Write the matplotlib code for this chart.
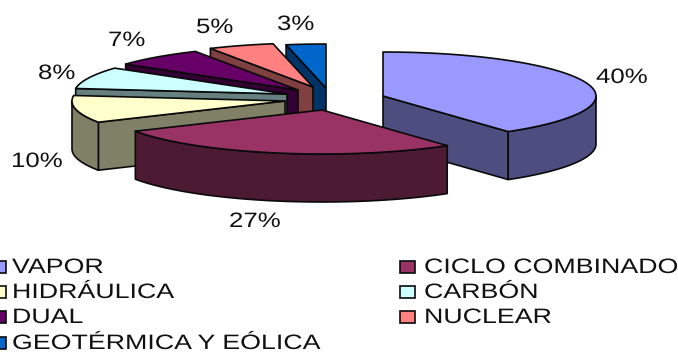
"""Exploded 3D-style pie of generating capacity by plant type."""

import numpy as np
import matplotlib
matplotlib.use("Agg")
import matplotlib.pyplot as plt
from matplotlib.patches import Polygon, Rectangle
from matplotlib.patheffects import AbstractPathEffect
from matplotlib.transforms import Affine2D

names = ["VAPOR", "CICLO COMBINADO", "HIDRÁULICA", "CARBÓN", "DUAL", "NUCLEAR",
         "GEOTÉRMICA Y EÓLICA"]
shares = [40, 27, 10, 8, 7, 5, 3]
tops = ["#9999FF", "#993366", "#FFFFCC", "#CCFFFF", "#660066", "#FF8080", "#0066CC"]
walls = ["#4D4D80", "#4D1A33", "#808066", "#668080", "#330033", "#804040", "#003366"]

# Exploded slice centres in pixels, same order as shares
centres = [(383, 96), (322, 110), (285, 101), (287, 94), (298, 90), (313, 87), (326, 88)]
label_pos = [(596, 83), (229, 227), (11, 167), (38, 79), (108, 46), (196, 33), (277, 30)]
RX, RY, DEPTH = 213, 44, 48
EDGE = "#0A0A0A"


class WideText(AbstractPathEffect):
    """Stretch glyphs horizontally from the text origin."""

    def __init__(self, factor):
        super().__init__()
        self.factor = factor

    def draw_path(self, renderer, gc, tpath, affine, rgbFace=None):
        wide = Affine2D().scale(self.factor, 1.0) + affine
        renderer.draw_path(gc, tpath, wide, rgbFace)


def rim(cx, cy, a0, a1, drop=0):
    # angles run clockwise from twelve o'clock, in degrees
    t = np.radians(np.linspace(a0, a1, 80))
    return np.column_stack([cx + RX * np.sin(t), cy - RY * np.cos(t) + drop])


def add_poly(ax, pts, color):
    ax.add_patch(Polygon(pts, closed=True, facecolor=color, edgecolor=EDGE,
                         linewidth=1.2, joinstyle="round"))


fig = plt.figure(figsize=(6.78, 3.53), dpi=100)
ax = fig.add_axes([0, 0, 1, 1])
ax.set_xlim(0, 678)
ax.set_ylim(353, 0)
ax.axis("off")

bounds = np.cumsum([0] + shares) * 3.6
slices = list(zip(centres, bounds[:-1], bounds[1:], tops, walls))

# Back slices first, the front one (ciclo combinado) last
for i in [6, 5, 4, 3, 2, 0, 1]:
    (cx, cy), a0, a1, top, wall = slices[i]
    if a0 > 180:
        edge = rim(cx, cy, a0, a0)[0]
        add_poly(ax, [(cx, cy), edge, edge + (0, DEPTH), (cx, cy + DEPTH)], wall)
    if a1 < 180:
        edge = rim(cx, cy, a1, a1)[0]
        add_poly(ax, [(cx, cy), edge, edge + (0, DEPTH), (cx, cy + DEPTH)], wall)
    lo, hi = max(a0, 90), min(a1, 270)
    if lo < hi:
        add_poly(ax, np.vstack([rim(cx, cy, lo, hi), rim(cx, cy, hi, lo, DEPTH)]), wall)
    add_poly(ax, np.vstack([[(cx, cy)], rim(cx, cy, a0, a1)]), top)

for share, (x, y) in zip(shares, label_pos):
    ax.text(x, y, f"{share}%", fontsize=15, family="Liberation Sans", color="#111111",
            ha="left", va="baseline", path_effects=[WideText(1.24)])

# Two-column legend, filled row by row
swatch_x = [-9, 400]
text_x = [12, 424]
legend_y = [273, 298, 323, 349]
for i, (name, top) in enumerate(zip(names, tops)):
    col, row = i % 2, i // 2
    ax.add_patch(Rectangle((swatch_x[col], legend_y[row] - 12), 15, 12, facecolor=top,
                           edgecolor=EDGE, linewidth=1.2))
    ax.text(text_x[col], legend_y[row], name, fontsize=15, family="Liberation Sans",
            color="#111111", ha="left", va="baseline", path_effects=[WideText(1.285)])

fig.savefig("out.png", dpi=100)
